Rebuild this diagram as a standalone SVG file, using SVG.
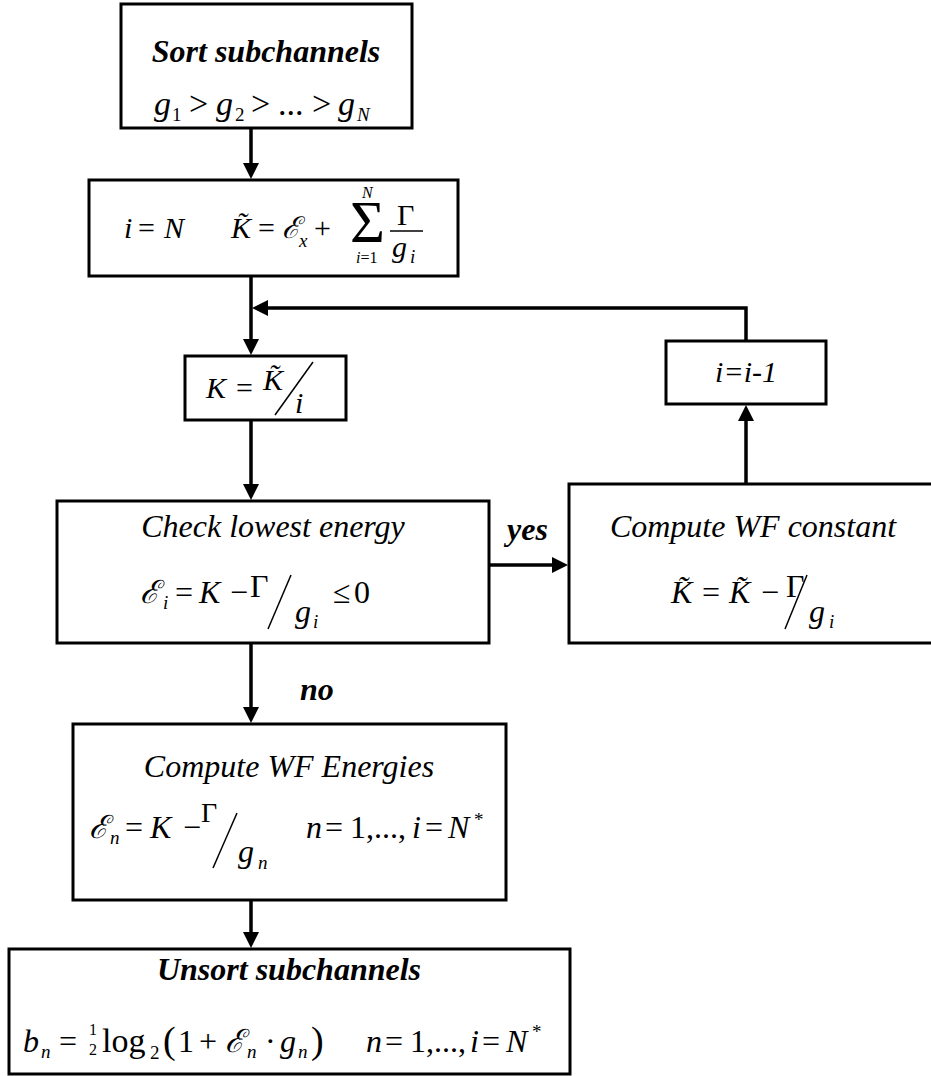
<svg xmlns="http://www.w3.org/2000/svg" width="931" height="1076" viewBox="0 0 931 1076">
<style>
.box{fill:#fff;stroke:#000;stroke-width:3}
.edge{fill:none;stroke:#000;stroke-width:3.5}
.thin{stroke:#000;stroke-width:1.5;fill:none}
text{font-family:"Liberation Serif","Times New Roman","DejaVu Serif",serif;fill:#000}
.lbl{font-size:32px;font-style:italic}
.bold{font-weight:bold}
.m{font-size:30px;font-style:italic}
.m2{font-size:32px;font-style:italic}
.m3{font-size:34px;font-style:italic}
.u{font-style:normal}
.s{font-size:19px}
.ss{font-size:16px}
.mid{text-anchor:middle}
</style>
<defs>
<marker id="ah" markerUnits="userSpaceOnUse" markerWidth="16" markerHeight="16" viewBox="0 0 16 16" refX="6" refY="8" orient="auto">
<path d="M0,0 L16,8 L0,16 z" fill="#000"/>
</marker>
</defs>
<rect width="931" height="1076" fill="#fff"/>

<g id="connectors">
<path class="edge" d="M251,128 V169" marker-end="url(#ah)"/>
<path class="edge" d="M251,276 V345" marker-end="url(#ah)"/>
<path class="edge" d="M746,341 V308 H262" marker-end="url(#ah)"/>
<path class="edge" d="M251,420 V490" marker-end="url(#ah)"/>
<path class="edge" d="M489,565 H558" marker-end="url(#ah)"/>
<path class="edge" d="M746,484 V415" marker-end="url(#ah)"/>
<path class="edge" d="M251,643 V713" marker-end="url(#ah)"/>
<path class="edge" d="M251,900 V938" marker-end="url(#ah)"/>
<text class="lbl bold" x="507" y="540">yes</text>
<text class="lbl bold" x="300" y="700">no</text>
</g>

<g id="sort">
<rect class="box" x="121" y="4" width="291" height="124"/>
<text class="lbl bold mid" x="266" y="62">Sort subchannels</text>
<text class="m3" y="115"><tspan x="154">g</tspan><tspan class="s u" x="172" y="121">1</tspan><tspan class="u" x="189" y="115">&gt;</tspan><tspan x="216">g</tspan><tspan class="s u" x="235" y="121">2</tspan><tspan class="u" x="251" y="115">&gt;</tspan><tspan class="u" x="278">...</tspan><tspan class="u" x="312">&gt;</tspan><tspan x="338">g</tspan><tspan class="s" x="357" y="121">N</tspan></text>
</g>

<g id="init">
<rect class="box" x="89" y="180" width="369" height="96"/>
<text class="m" y="238"><tspan x="124">i</tspan><tspan class="u" x="138">=</tspan><tspan x="164">N</tspan><tspan x="231">K&#x303;</tspan><tspan class="u" x="258">=</tspan><tspan x="282">ℰ</tspan><tspan class="s" x="299" y="247">x</tspan><tspan class="u" x="314" y="238">+</tspan><tspan class="u" x="350" y="242" font-size="60">Σ</tspan><tspan class="ss" x="362" y="198">N</tspan><tspan class="ss" x="356" y="263">i</tspan><tspan class="ss u">=1</tspan><tspan class="u" x="397" y="225">Γ</tspan><tspan x="392" y="257">g</tspan><tspan class="s" x="410" y="263">i</tspan></text>
<line class="thin" x1="390" y1="231" x2="423" y2="231"/>
</g>

<g id="kdiv">
<rect class="box" x="185" y="356" width="161" height="64"/>
<text class="m" y="398"><tspan x="206">K</tspan><tspan class="u" x="236">=</tspan><tspan x="263" y="390">K&#x303;</tspan><tspan x="295" y="413">i</tspan></text>
<line class="thin" x1="275" y1="415" x2="313" y2="362"/>
</g>

<g id="decrement">
<rect class="box" x="666" y="341" width="160" height="63"/>
<text class="m mid" x="746" y="382">i=i-1</text>
</g>

<g id="check">
<rect class="box" x="57" y="501" width="432" height="142"/>
<text class="lbl mid" x="273" y="537">Check lowest energy</text>
<text class="m2" y="603"><tspan x="140">ℰ</tspan><tspan class="s" x="163" y="609">i</tspan><tspan class="u" x="175" y="603">=</tspan><tspan x="199">K</tspan><tspan class="u" x="230">−</tspan><tspan class="u" x="250" y="597">Γ</tspan><tspan x="295" y="622">g</tspan><tspan class="s" x="313" y="628">i</tspan><tspan class="u" x="333" y="603">≤</tspan><tspan class="u" x="354">0</tspan></text>
<line class="thin" x1="268" y1="629" x2="291" y2="575"/>
</g>

<g id="wfconst">
<rect class="box" x="569" y="484" width="366" height="159"/>
<text class="lbl mid" x="753" y="537">Compute WF constant</text>
<text class="m2" y="603"><tspan x="671">K&#x303;</tspan><tspan class="u" x="702">=</tspan><tspan x="729">K&#x303;</tspan><tspan class="u" x="761">−</tspan><tspan class="u" x="786" y="597">Γ</tspan><tspan x="809" y="622">g</tspan><tspan class="s" x="829" y="628">i</tspan></text>
<line class="thin" x1="785" y1="629" x2="807" y2="575"/>
</g>

<g id="energies">
<rect class="box" x="73" y="724" width="433" height="176"/>
<text class="lbl mid" x="289" y="777">Compute WF Energies</text>
<text class="m2" y="838" font-size="33"><tspan x="89">ℰ</tspan><tspan class="s" x="110" y="844">n</tspan><tspan class="u" x="125" y="838">=</tspan><tspan x="150">K</tspan><tspan class="u" x="183">−</tspan><tspan class="u" x="201" y="822" font-size="28">Γ</tspan><tspan x="238" y="862">g</tspan><tspan class="s" x="258" y="869">n</tspan><tspan x="306" y="838">n</tspan><tspan class="u" x="325">=</tspan><tspan class="u" x="350">1,...,</tspan><tspan x="412">i</tspan><tspan class="u" x="425">=</tspan><tspan x="448">N</tspan><tspan class="s u" x="474" y="826">*</tspan></text>
<line class="thin" x1="213" y1="868" x2="237" y2="813"/>
</g>

<g id="unsort">
<rect class="box" x="9" y="949" width="561" height="125"/>
<text class="lbl bold mid" x="289" y="980">Unsort subchannels</text>
<text class="m2" y="1052"><tspan x="23">b</tspan><tspan class="s" x="41" y="1058">n</tspan><tspan class="u" x="59" y="1052">=</tspan><tspan class="u ss" x="89" y="1035">1</tspan><tspan class="u ss" x="89" y="1055">2</tspan><tspan class="u" x="102" y="1052" font-size="34">log</tspan><tspan class="u s" x="150" y="1059">2</tspan><tspan class="u" x="163" y="1053" font-size="38">(</tspan><tspan class="u" x="178" y="1052">1</tspan><tspan class="u" x="199">+</tspan><tspan x="225">ℰ</tspan><tspan class="s" x="247" y="1058">n</tspan><tspan class="u" x="265" y="1052">·</tspan><tspan x="280">g</tspan><tspan class="s" x="298" y="1058">n</tspan><tspan class="u" x="311" y="1053" font-size="38">)</tspan><tspan x="366" y="1052">n</tspan><tspan class="u" x="385">=</tspan><tspan class="u" x="410">1,...,</tspan><tspan x="470">i</tspan><tspan class="u" x="482">=</tspan><tspan x="506">N</tspan><tspan class="s u" x="532" y="1038">*</tspan></text>
</g>
</svg>
